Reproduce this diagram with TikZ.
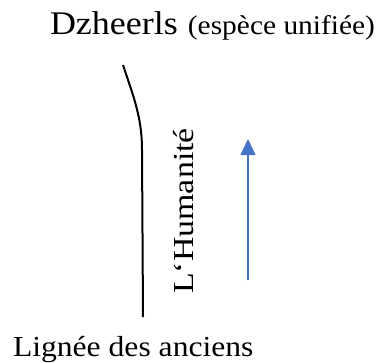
\documentclass[tikz,border=0pt]{standalone}
\usepackage{fontspec}
\setmainfont{Liberation Serif}
\usetikzlibrary{arrows.meta}
\definecolor{arrowblue}{HTML}{4472C4}
\begin{document}
\begin{tikzpicture}[x=1pt,y=-1pt,
  lbl/.style={inner sep=0pt,outer sep=0pt},
  lineage/.style={line width=2pt,black},
  flow/.style={line width=1.4pt,arrowblue,-{Triangle[length=16pt,width=15pt]}}]
\useasboundingbox (0,0) rectangle (377,362);
\node[lbl,anchor=base west] (title) at (50,34) {\scalebox{1.09}[1]{\fontsize{33}{33}\selectfont Dzheerls}};
\node[lbl,anchor=base east] (sub) at (375,34) {\scalebox{1.09}[1]{\fontsize{27}{27}\selectfont (espèce unifiée)}};
\node[lbl,anchor=base west] (bottom) at (13,356) {\scalebox{1.09}[1]{\fontsize{29}{29}\selectfont Lignée des anciens}};
\node[lbl,anchor=base,rotate=90] (hum) at (193,211) {\scalebox{1.17}[1]{\fontsize{29}{29}\selectfont L‘Humanité}};
\coordinate (ltop) at (123,65);
\coordinate (lbot) at (143,317);
\draw[lineage] (ltop) .. controls (134,98) and (142,118) .. (142,150) -- (lbot);
\coordinate (afrom) at (248,280);
\coordinate (ato) at (248,139);
\draw[flow] (afrom) -- (ato);
\end{tikzpicture}
\end{document}
